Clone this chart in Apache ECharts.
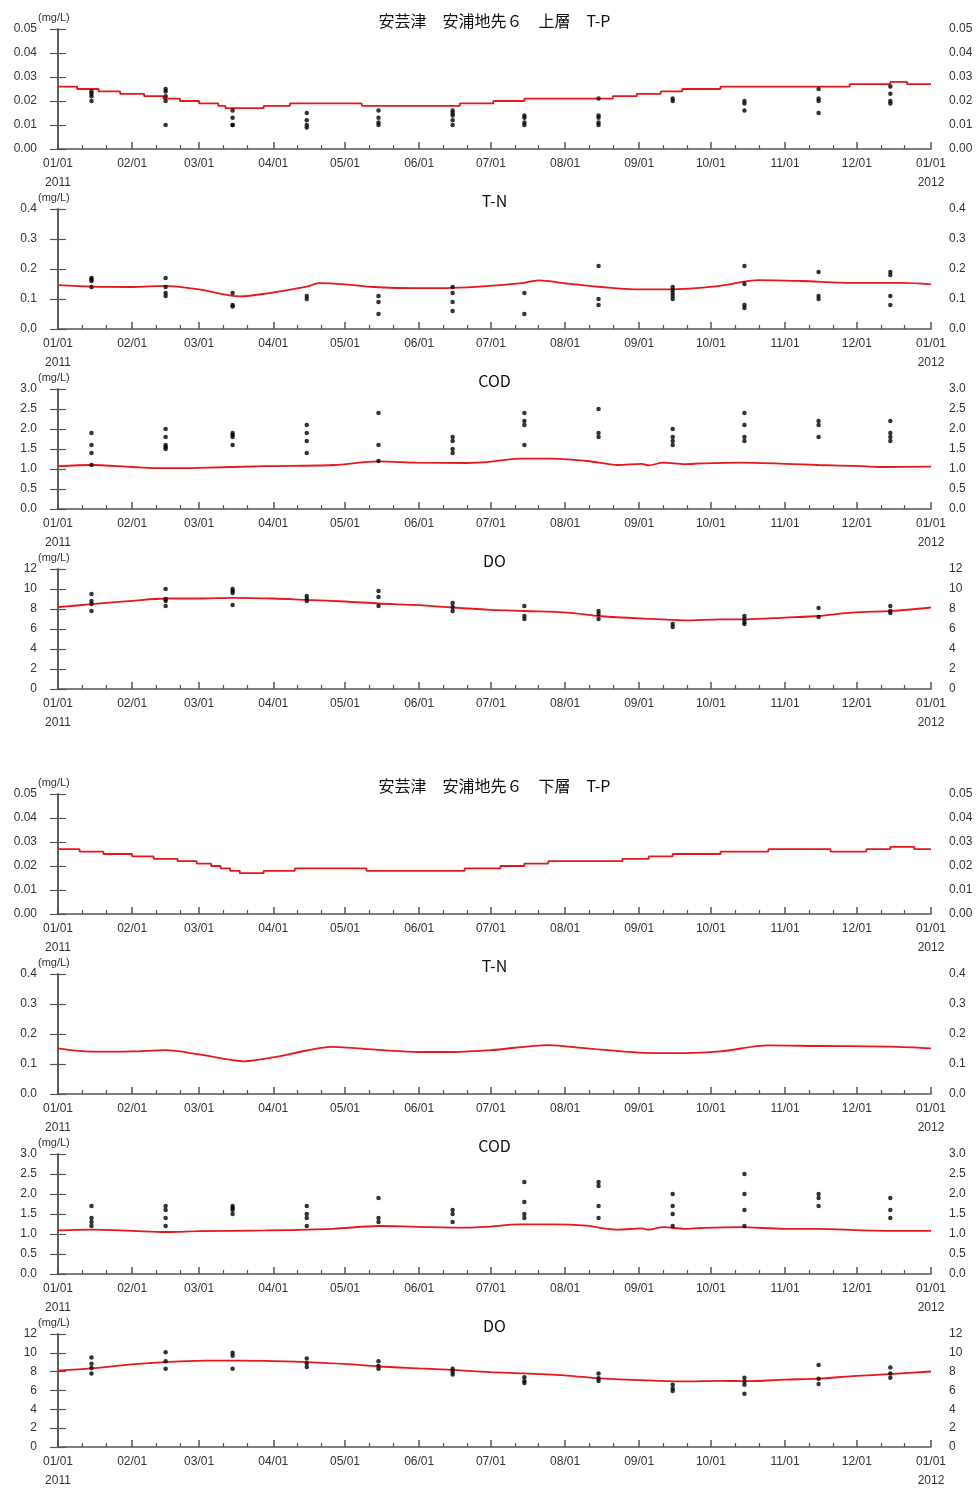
<!DOCTYPE html>
<html>
<head>
<meta charset="utf-8">
<script src="https://cdn.jsdelivr.net/npm/echarts@6/dist/echarts.min.js"></script>
<style>
  html, body { margin: 0; background: #fff; }
  #chart { width: 976px; height: 1490px; }
</style>
</head>
<body>
<div id="chart"></div>
<script>
// sampling days (one per month)
const sampleDates = ['2011-01-15','2011-02-15','2011-03-15','2011-04-15','2011-05-15','2011-06-15',
                     '2011-07-15','2011-08-15','2011-09-15','2011-10-15','2011-11-15','2011-12-15']

// ---- 上層 ----
const upTPLine = [['2011-01-01',0.026],['2011-01-09',0.025],['2011-01-18',0.024],['2011-01-27',0.023],
  ['2011-02-06',0.022],['2011-02-14',0.021],['2011-02-21',0.020],['2011-03-01',0.019],['2011-03-09',0.018],
  ['2011-03-12',0.017],['2011-03-28',0.018],['2011-04-08',0.019],['2011-05-08',0.018],['2011-06-18',0.019],
  ['2011-07-02',0.020],['2011-07-15',0.021],['2011-08-21',0.022],['2011-08-31',0.023],['2011-09-10',0.024],
  ['2011-09-19',0.025],['2011-10-05',0.026],['2011-11-28',0.027],['2011-12-15',0.028],['2011-12-22',0.027],
  ['2012-01-01',0.027]]
const upTPSamples = [[0.024,0.023,0.022,0.020],[0.025,0.024,0.022,0.020,0.010],[0.016,0.013,0.010,0.010],
  [0.015,0.012,0.010,0.009],[0.016,0.013,0.011,0.010],[0.016,0.015,0.014,0.012,0.010],[0.014,0.013,0.011,0.010],
  [0.021,0.014,0.013,0.011,0.010],[0.021,0.020],[0.020,0.019,0.016],[0.025,0.021,0.020,0.015],[0.026,0.023,0.020,0.019]]

const upTNLine = [['2011-01-01',0.146],['2011-01-15',0.141],['2011-02-01',0.140],['2011-02-15',0.144],
  ['2011-03-01',0.132],['2011-03-18',0.109],['2011-03-29',0.118],['2011-04-15',0.141],['2011-04-20',0.153],
  ['2011-05-01',0.149],['2011-05-13',0.140],['2011-05-31',0.136],['2011-06-15',0.137],['2011-06-29',0.143],
  ['2011-07-13',0.152],['2011-07-21',0.162],['2011-08-02',0.151],['2011-08-16',0.140],['2011-08-30',0.132],
  ['2011-09-13',0.132],['2011-10-04',0.143],['2011-10-21',0.163],['2011-11-08',0.160],['2011-11-29',0.154],
  ['2011-12-20',0.154],['2012-01-01',0.149]]
const upTNSamples = [[0.17,0.165,0.16,0.14],[0.17,0.14,0.12,0.11],[0.12,0.08,0.075],[0.11,0.10],
  [0.11,0.09,0.05],[0.14,0.12,0.09,0.06],[0.12,0.05],[0.21,0.10,0.08],[0.14,0.13,0.12,0.11,0.10],
  [0.21,0.15,0.08,0.07],[0.19,0.11,0.10],[0.19,0.18,0.11,0.08]]

const upCODLine = [['2011-01-01',1.07],['2011-01-15',1.10],['2011-02-01',1.05],['2011-02-15',1.02],
  ['2011-03-01',1.03],['2011-03-29',1.07],['2011-04-26',1.10],['2011-05-15',1.19],['2011-05-31',1.16],
  ['2011-06-21',1.15],['2011-06-29',1.17],['2011-07-13',1.26],['2011-07-27',1.26],['2011-08-10',1.20],
  ['2011-08-15',1.16],['2011-08-23',1.10],['2011-09-02',1.13],['2011-09-05',1.09],['2011-09-11',1.16],
  ['2011-09-20',1.12],['2011-09-27',1.14],['2011-10-13',1.16],['2011-11-01',1.13],['2011-11-15',1.10],
  ['2011-12-03',1.07],['2011-12-13',1.05],['2012-01-01',1.06]]
const upCODSamples = [[1.9,1.6,1.4,1.1],[2.0,1.8,1.6,1.55,1.5],[1.9,1.85,1.8,1.6],[2.1,1.9,1.7,1.4],
  [2.4,1.6,1.2],[1.8,1.7,1.5,1.4],[2.4,2.2,2.1,1.6],[2.5,1.9,1.8],[2.0,1.8,1.7,1.6],[2.4,2.1,1.8,1.7],
  [2.2,2.1,1.8],[2.2,1.9,1.8,1.7]]

const upDOLine = [['2011-01-01',8.18],['2011-01-15',8.48],['2011-02-01',8.82],['2011-02-15',9.05],
  ['2011-03-01',9.05],['2011-03-15',9.12],['2011-04-01',9.05],['2011-04-15',8.90],['2011-05-01',8.75],
  ['2011-05-15',8.55],['2011-06-01',8.38],['2011-06-15',8.15],['2011-07-01',7.92],['2011-07-15',7.80],
  ['2011-08-02',7.64],['2011-08-15',7.30],['2011-09-01',7.07],['2011-09-20',6.87],['2011-10-05',6.97],
  ['2011-10-16',6.97],['2011-11-01',7.14],['2011-11-15',7.30],['2011-11-29',7.64],['2011-12-16',7.81],
  ['2012-01-01',8.15]]
const upDOSamples = [[9.5,8.8,8.5,7.8],[10.0,9.0,8.8,8.3],[10.0,9.8,9.6,8.4],[9.3,9.0,8.8],[9.8,9.2,8.3],
  [8.6,8.2,7.8],[8.3,7.3,7.0],[7.8,7.5,7.0],[6.5,6.2],[7.3,7.0,6.7,6.5],[8.1,7.2],[8.3,7.8,7.6]]

// ---- 下層 ----
const lowTPLine = [['2011-01-01',0.027],['2011-01-10',0.026],['2011-01-20',0.025],['2011-02-01',0.024],
  ['2011-02-10',0.023],['2011-02-20',0.022],['2011-02-28',0.021],['2011-03-06',0.020],['2011-03-10',0.019],
  ['2011-03-14',0.018],['2011-03-18',0.017],['2011-03-28',0.018],['2011-04-10',0.019],['2011-05-10',0.018],
  ['2011-06-20',0.019],['2011-07-05',0.020],['2011-07-15',0.021],['2011-07-25',0.022],['2011-08-25',0.023],
  ['2011-09-05',0.024],['2011-09-15',0.025],['2011-10-05',0.026],['2011-10-25',0.027],['2011-11-20',0.026],
  ['2011-11-28',0.026],['2011-12-05',0.027],['2011-12-15',0.028],['2011-12-25',0.027],['2012-01-01',0.027]]

const lowTNLine = [['2011-01-01',0.152],['2011-01-15',0.141],['2011-02-01',0.142],['2011-02-15',0.146],
  ['2011-03-01',0.132],['2011-03-20',0.109],['2011-04-01',0.122],['2011-04-15',0.145],['2011-04-25',0.157],
  ['2011-05-15',0.147],['2011-06-01',0.140],['2011-06-15',0.140],['2011-07-01',0.146],['2011-07-25',0.163],
  ['2011-08-10',0.152],['2011-09-01',0.138],['2011-09-20',0.136],['2011-10-05',0.142],['2011-10-25',0.162],
  ['2011-11-15',0.160],['2011-12-15',0.158],['2012-01-01',0.152]]

const lowCODLine = [['2011-01-01',1.09],['2011-01-15',1.11],['2011-02-01',1.08],['2011-02-15',1.05],
  ['2011-03-01',1.07],['2011-03-29',1.09],['2011-04-26',1.13],['2011-05-15',1.20],['2011-05-31',1.18],
  ['2011-06-21',1.16],['2011-06-29',1.18],['2011-07-13',1.24],['2011-07-27',1.24],['2011-08-10',1.21],
  ['2011-08-15',1.16],['2011-08-23',1.11],['2011-09-02',1.14],['2011-09-05',1.11],['2011-09-11',1.17],
  ['2011-09-20',1.13],['2011-09-27',1.15],['2011-10-13',1.17],['2011-11-01',1.13],['2011-11-15',1.13],
  ['2011-12-03',1.09],['2011-12-13',1.08],['2012-01-01',1.08]]
const lowCODSamples = [[1.7,1.4,1.3,1.2],[1.7,1.6,1.4,1.2],[1.7,1.65,1.6,1.5],[1.7,1.5,1.4,1.2],
  [1.9,1.4,1.3],[1.6,1.5,1.3],[2.3,1.8,1.5,1.4],[2.3,2.2,1.7,1.4],[2.0,1.7,1.5,1.2],[2.5,2.0,1.6,1.2],
  [2.0,1.9,1.7],[1.9,1.6,1.4]]

const lowDOLine = [['2011-01-01',8.12],['2011-01-15',8.35],['2011-02-01',8.78],['2011-02-15',9.02],
  ['2011-03-04',9.18],['2011-03-29',9.15],['2011-04-15',9.02],['2011-05-01',8.82],['2011-05-15',8.55],
  ['2011-06-01',8.35],['2011-06-15',8.19],['2011-07-01',7.95],['2011-07-15',7.82],['2011-08-02',7.59],
  ['2011-08-15',7.29],['2011-08-30',7.13],['2011-09-20',6.96],['2011-10-05',7.03],['2011-10-16',6.99],
  ['2011-11-01',7.16],['2011-11-15',7.26],['2011-11-29',7.52],['2011-12-16',7.76],['2012-01-01',8.02]]
const lowDOSamples = [[9.5,8.85,8.4,7.8],[10.05,9.1,8.3],[10.0,9.7,8.3],[9.4,8.9,8.5],[9.1,8.6,8.3],
  [8.3,8.0,7.7],[7.4,7.0,6.8],[7.8,7.3,7.0],[6.6,6.2,5.95],[7.35,6.95,6.6,5.65],[8.7,7.25,6.7],[8.45,7.8,7.35]]

const monthStarts = ['2011-01-01','2011-02-01','2011-03-01','2011-04-01','2011-05-01','2011-06-01','2011-07-01',
  '2011-08-01','2011-09-01','2011-10-01','2011-11-01','2011-12-01','2012-01-01']

let dayOf = (s) => {
  let p = s.split('-').map(Number)
  return (Date.UTC(p[0], p[1] - 1, p[2]) - Date.UTC(2011, 0, 1)) / 86400000
}

const majorDays = monthStarts.map(dayOf)
let minorDays = []
monthStarts.slice(0, 12).forEach(m => {
  minorDays.push(dayOf(m.slice(0, 8) + '11'), dayOf(m.slice(0, 8) + '21'))
})

const panels = [
  { title: '安芸津　安浦地先６　上層　T-P', top: 29, max: 0.05, step: 0.01, dec: 2, line: upTPLine, samples: upTPSamples, stepLine: true },
  { title: 'T-N', top: 209, max: 0.4, step: 0.1, dec: 1, line: upTNLine, samples: upTNSamples },
  { title: 'COD', top: 389, max: 3, step: 0.5, dec: 1, line: upCODLine, samples: upCODSamples },
  { title: 'DO', top: 569, max: 12, step: 2, dec: 0, line: upDOLine, samples: upDOSamples },
  { title: '安芸津　安浦地先６　下層　T-P', top: 794, max: 0.05, step: 0.01, dec: 2, line: lowTPLine, samples: null, stepLine: true },
  { title: 'T-N', top: 974, max: 0.4, step: 0.1, dec: 1, line: lowTNLine, samples: null },
  { title: 'COD', top: 1154, max: 3, step: 0.5, dec: 1, line: lowCODLine, samples: lowCODSamples },
  { title: 'DO', top: 1334, max: 12, step: 2, dec: 0, line: lowDOLine, samples: lowDOSamples },
]

const axisColor = '#555'
const labelColor = '#333'
const fontFamily = 'Liberation Sans, Arial, sans-serif'

let grid = [], xAxis = [], yAxis = [], series = [], graphic = []

panels.forEach((p, i) => {
  grid.push({ left: 58, width: 873, top: p.top, height: 120 })

  // month ticks + labels
  xAxis.push({
    type: 'value', gridIndex: i, min: 0, max: 365, position: 'bottom',
    axisLine: { lineStyle: { color: axisColor, width: 1.5 } },
    axisTick: { inside: true, length: 7, customValues: majorDays, lineStyle: { color: axisColor, width: 1.5 } },
    axisLabel: {
      customValues: majorDays, margin: 5, fontSize: 12, color: labelColor, fontFamily: fontFamily, lineHeight: 19,
      formatter: (v) => {
        if (v === 0) return '01/01\n2011'
        if (v === 365) return '01/01\n2012'
        let d = new Date(Date.UTC(2011, 0, 1) + v * 86400000)
        return String(d.getUTCMonth() + 1).padStart(2, '0') + '/01'
      }
    },
    splitLine: { show: false }
  })
  // 11th / 21st small ticks
  xAxis.push({
    type: 'value', gridIndex: i, min: 0, max: 365, position: 'bottom',
    axisLine: { show: false },
    axisTick: { inside: true, length: 4, customValues: minorDays, lineStyle: { color: axisColor, width: 1.2 } },
    axisLabel: { show: false },
    splitLine: { show: false }
  })

  let yBase = {
    type: 'value', gridIndex: i, min: 0, max: p.max, interval: p.step,
    axisLine: { show: true, lineStyle: { color: axisColor, width: 1.5 } },
    axisTick: { show: true, length: 8, lineStyle: { color: axisColor, width: 1.2 } },
    splitLine: { show: false }
  }
  yAxis.push(Object.assign({}, yBase, {
    position: 'left',
    axisLabel: { fontSize: 12, color: labelColor, fontFamily: fontFamily, margin: 21, formatter: (v) => v.toFixed(p.dec) },
    name: '(mg/L)', nameLocation: 'end', nameGap: 3,
    nameTextStyle: { fontSize: 11, color: labelColor, fontFamily: fontFamily, align: 'left', padding: [0, 0, 0, -20] }
  }))
  yAxis.push(Object.assign({}, yBase, {
    position: 'right',
    axisLabel: { fontSize: 12, color: labelColor, fontFamily: fontFamily, margin: 18, formatter: (v) => v.toFixed(p.dec) }
  }))

  series.push({
    type: 'line', xAxisIndex: 2 * i, yAxisIndex: 2 * i,
    data: p.line.map(d => [dayOf(d[0]), d[1]]),
    step: p.stepLine ? 'end' : false,
    smooth: p.stepLine ? false : 0.3,
    showSymbol: false, symbol: 'none',
    lineStyle: { color: '#e8161d', width: 1.8 },
    z: 2
  })

  if (p.samples) {
    let pts = []
    sampleDates.forEach((dt, k) => {
      p.samples[k].forEach(v => pts.push([dayOf(dt), v]))
    })
    series.push({
      type: 'scatter', xAxisIndex: 2 * i, yAxisIndex: 2 * i,
      data: pts, symbol: 'circle', symbolSize: 4.5,
      itemStyle: { color: '#000' },
      z: 3
    })
  }

  graphic.push({
    type: 'text', x: 494.5, y: p.top - 8,
    style: {
      text: p.title, fill: '#111', fontSize: 16,
      fontFamily: 'Noto Sans CJK JP, sans-serif',
      textAlign: 'center', textVerticalAlign: 'middle'
    }
  })
})

let chartInstance = echarts.init(document.getElementById('chart'))
chartInstance.setOption({
  animation: false,
  backgroundColor: '#fff',
  grid: grid,
  xAxis: xAxis,
  yAxis: yAxis,
  series: series,
  graphic: graphic
})
</script>
</body>
</html>
